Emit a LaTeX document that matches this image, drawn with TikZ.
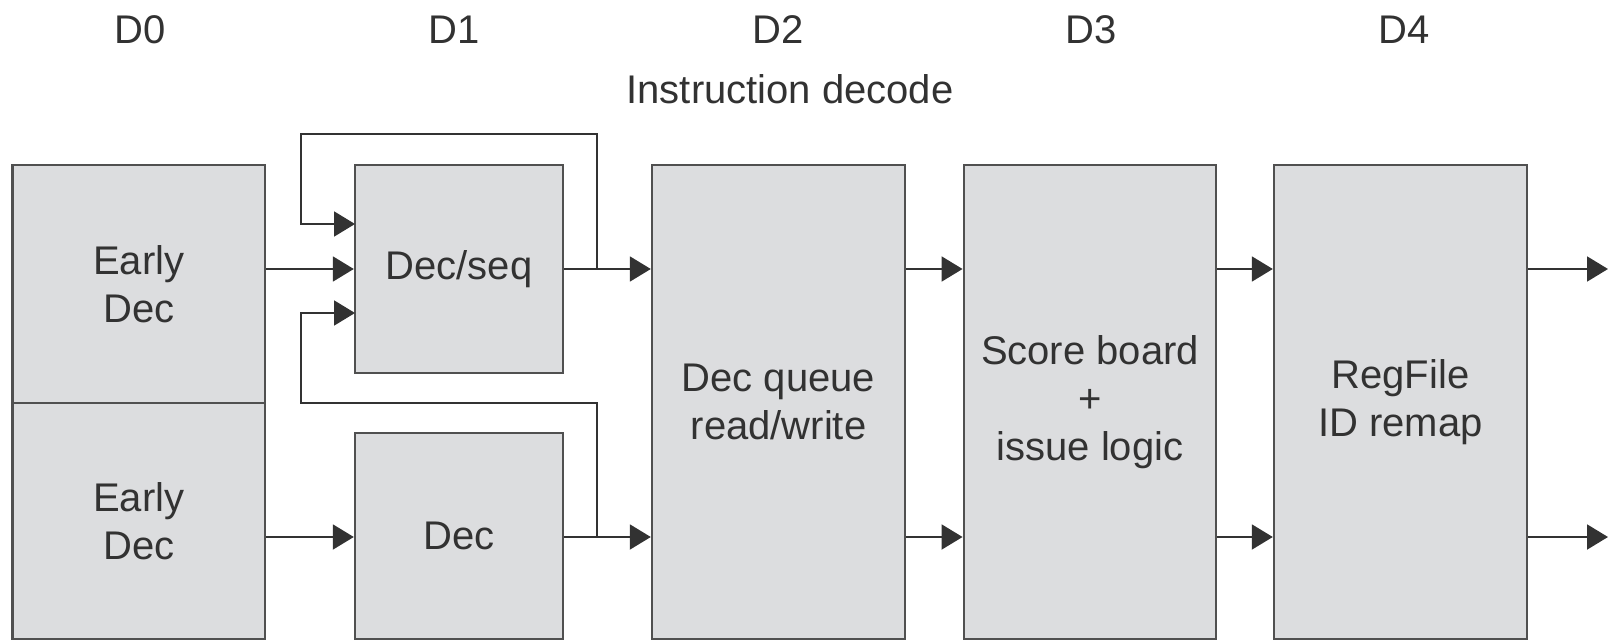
\documentclass[tikz,border=0pt]{standalone}
\usepackage{fontspec}
\setmainfont{Liberation Sans}
\usetikzlibrary{arrows.meta}
\definecolor{boxfill}{RGB}{220,221,223}
\definecolor{boxline}{RGB}{80,80,80}
\definecolor{ink}{RGB}{50,50,50}
\tikzset{
  blk/.style={draw=boxline, fill=boxfill, line width=1.2pt, inner sep=0pt,
    align=center, text=ink, font=\fontsize{20}{24}\selectfont},
  lbl/.style={text=ink, font=\fontsize{20}{24}\selectfont, inner sep=0pt, anchor=base},
  arr/.style={draw=ink, line width=1pt, -{Triangle[length=10.5pt, width=12.5pt]}},
  wire/.style={draw=ink, line width=1pt}
}
\begin{document}
\begin{tikzpicture}[x=0.5pt, y=-0.5pt]
\useasboundingbox (0,0) rectangle (1608,642);
% column labels
\node[lbl] (d0) at (140,44) {D0};
\node[lbl] (d1) at (454,44) {D1};
\node[lbl] (d2) at (778,44) {D2};
\node[lbl] (d3) at (1091,44) {D3};
\node[lbl] (d4) at (1404,44) {D4};
\node[lbl] (title) at (790,104) {Instruction decode};
% boxes
\node[blk, minimum width=126.2pt, minimum height=119pt] (e1) at (138.8,284) {Early\\Dec};
\node[blk, minimum width=126.2pt, minimum height=118pt] (e2) at (138.8,521) {Early\\Dec};
\node[blk, minimum width=104pt, minimum height=104pt] (ds) at (459,269) {Dec/seq};
\node[blk, minimum width=104pt, minimum height=103pt] (dec) at (459,536) {Dec};
\node[blk, minimum width=126.5pt, minimum height=237pt] (dq) at (778.5,402) {Dec queue\\read/write};
\node[blk, minimum width=126.25pt, minimum height=237pt] (sb) at (1090,402) {Score board\\+\\issue logic};
\node[blk, minimum width=126.5pt, minimum height=237pt] (rf) at (1400.5,402) {RegFile\\ID remap};
% helper coordinates
\coordinate (rowA) at (0,269);
\coordinate (rowB) at (0,537);
\coordinate (tapT) at (597,269);
\coordinate (tapB) at (597,537);
\coordinate (topR) at (597,134);
\coordinate (topL) at (301,134);
\coordinate (midR) at (597,403);
\coordinate (midL) at (301,403);
\coordinate (inT) at (355,224);
\coordinate (inB) at (355,313);
\coordinate (outA) at (1608,269);
\coordinate (outB) at (1608,537);
% connectors
\draw[arr] (e1.east |- rowA) -- (ds.west |- rowA);
\draw[arr] (e2.east |- rowB) -- (dec.west |- rowB);
\draw[arr] (ds.east |- rowA) -- (dq.west |- rowA);
\draw[arr] (dec.east |- rowB) -- (dq.west |- rowB);
\draw[arr] (tapT) -- (topR) -- (topL) -- (topL |- inT) -- (inT);
\draw[arr] (tapB) -- (midR) -- (midL) -- (midL |- inB) -- (inB);
\draw[arr] (dq.east |- rowA) -- (sb.west |- rowA);
\draw[arr] (dq.east |- rowB) -- (sb.west |- rowB);
\draw[arr] (sb.east |- rowA) -- (rf.west |- rowA);
\draw[arr] (sb.east |- rowB) -- (rf.west |- rowB);
\draw[arr] (rf.east |- rowA) -- (outA);
\draw[arr] (rf.east |- rowB) -- (outB);
\end{tikzpicture}
\end{document}
